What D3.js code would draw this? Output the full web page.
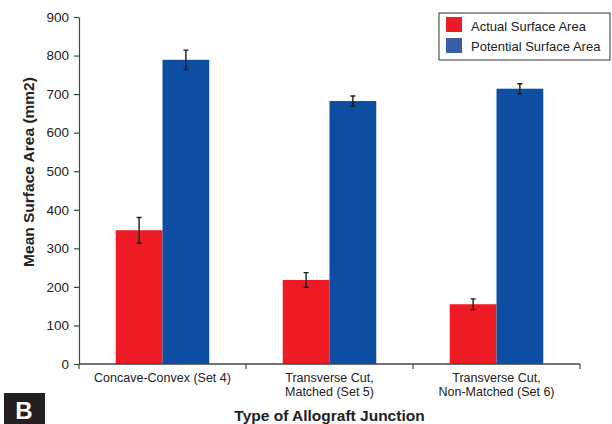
<!DOCTYPE html>
<html>
<head>
<meta charset="utf-8">
<script src="https://cdn.jsdelivr.net/npm/d3@7"></script>
<style>
  body { margin: 0; background: #fff; }
  text { font-family: "Liberation Sans", Arial, Helvetica, sans-serif; }
</style>
</head>
<body>
<div id="chart"></div>
<script>
// data
var categories = [["Concave-Convex (Set 4)"], ["Transverse Cut,", "Matched (Set 5)"], ["Transverse Cut,", "Non-Matched (Set 6)"]];
var seriesNames = ["Actual Surface Area", "Potential Surface Area"];
var actual = [347, 218, 155];
var actualErr = [33, 19, 14];
var potential = [789, 682, 714];
var potentialErr = [25, 13, 13];
var yTicks = [0, 100, 200, 300, 400, 500, 600, 700, 800, 900];

var W = 612, H = 424;
var margin = {top: 17, right: 32, bottom: 60, left: 79};
var width = W - margin.left - margin.right;
var height = H - margin.top - margin.bottom;
var barColors = ["#ed1c24", "#0d4ea2"];
var legendColors = ["#ed1c24", "#3a5ba8"];

var svg = d3.select("#chart").append("svg")
    .attr("width", W)
    .attr("height", H);

var g = svg.append("g")
    .attr("transform", "translate(" + margin.left + "," + margin.top + ")");

var x0 = d3.scaleBand()
    .domain(d3.range(categories.length))
    .range([0, width])
    .paddingInner(0)
    .paddingOuter(0);

var x1 = d3.scaleBand()
    .domain([0, 1])
    .range([x0.bandwidth() * 0.22, x0.bandwidth() * 0.78]);

var y = d3.scaleLinear()
    .domain([0, 900])
    .range([height, 0]);

var rows = categories.map(function(c, i) {
  return [
    {cat: i, s: 0, v: actual[i], e: actualErr[i]},
    {cat: i, s: 1, v: potential[i], e: potentialErr[i]}
  ];
});

var groups = g.selectAll(".grp")
    .data(rows)
    .enter().append("g")
    .attr("transform", function(d, i) { return "translate(" + x0(i) + ",0)"; });

groups.selectAll("rect")
    .data(function(d) { return d; })
    .enter().append("rect")
    .attr("x", function(d) { return x1(d.s); })
    .attr("width", x1.bandwidth())
    .attr("y", function(d) { return y(d.v); })
    .attr("height", function(d) { return height - y(d.v); })
    .attr("fill", function(d) { return barColors[d.s]; });

// error bars
var cap = 2.5;
groups.selectAll(".err")
    .data(function(d) { return d; })
    .enter().append("path")
    .attr("class", "err")
    .attr("d", function(d) {
      var cx = x1(d.s) + x1.bandwidth() / 2;
      var t = y(d.v + d.e), b = y(d.v - d.e);
      return "M" + (cx - cap) + "," + t + "H" + (cx + cap) +
             "M" + cx + "," + t + "V" + b +
             "M" + (cx - cap) + "," + b + "H" + (cx + cap);
    })
    .attr("stroke", "#1a1a1a")
    .attr("stroke-width", 1.4)
    .attr("fill", "none");

// y axis
var yAxis = g.append("g")
    .call(d3.axisLeft(y).tickValues(yTicks).tickSize(5).tickSizeOuter(0));
yAxis.select(".domain").attr("stroke", "#444").attr("stroke-width", 1.2);
yAxis.selectAll(".tick line").attr("stroke", "#444").attr("stroke-width", 1.2);
yAxis.selectAll(".tick text")
    .attr("x", -10)
    .style("font-size", "13.5px")
    .attr("fill", "#222");

// x axis with boundary ticks
var xAxis = g.append("g").attr("transform", "translate(0," + height + ")");
xAxis.append("line")
    .attr("x1", 0).attr("x2", width)
    .attr("stroke", "#444").attr("stroke-width", 1.4);
xAxis.selectAll(".bt")
    .data(d3.range(categories.length + 1))
    .enter().append("line")
    .attr("x1", function(i) { return i * x0.step(); })
    .attr("x2", function(i) { return i * x0.step(); })
    .attr("y1", 0).attr("y2", 5)
    .attr("stroke", "#444").attr("stroke-width", 1.2);

xAxis.selectAll(".cl")
    .data(categories)
    .enter().append("text")
    .attr("x", function(d, i) { return x0(i) + x0.bandwidth() / 2; })
    .attr("y", 18)
    .attr("text-anchor", "middle")
    .style("font-size", "12.5px")
    .attr("fill", "#222")
    .each(function(d) {
      var t = d3.select(this);
      d.forEach(function(line, k) {
        t.append("tspan")
          .attr("x", t.attr("x"))
          .attr("dy", k === 0 ? 0 : 14)
          .text(line);
      });
    });

// axis titles
svg.append("text")
    .attr("transform", "translate(34,172) rotate(-90)")
    .attr("text-anchor", "middle")
    .style("font-size", "15.5px")
    .style("font-weight", "bold")
    .attr("fill", "#222")
    .text("Mean Surface Area (mm2)");

svg.append("text")
    .attr("x", margin.left + width / 2)
    .attr("y", 421)
    .attr("text-anchor", "middle")
    .style("font-size", "15.5px")
    .style("font-weight", "bold")
    .attr("fill", "#222")
    .text("Type of Allograft Junction");

// legend
var lg = svg.append("g").attr("transform", "translate(439,13)");
lg.append("rect")
    .attr("width", 171).attr("height", 47)
    .attr("fill", "#fff").attr("stroke", "#333").attr("stroke-width", 1);
seriesNames.forEach(function(n, i) {
  lg.append("rect")
    .attr("x", 7).attr("y", 4 + i * 21)
    .attr("width", 16).attr("height", 15)
    .attr("fill", legendColors[i]);
  lg.append("text")
    .attr("x", 32).attr("y", 17.5 + i * 20.5)
    .style("font-size", "13px")
    .attr("fill", "#222")
    .text(n);
});

// panel letter
svg.append("rect")
    .attr("x", 4).attr("y", 393).attr("width", 41).attr("height", 31)
    .attr("fill", "#231f20");
svg.append("text")
    .attr("x", 24).attr("y", 419)
    .attr("text-anchor", "middle")
    .style("font-size", "24px")
    .style("font-weight", "bold")
    .attr("fill", "#fff")
    .text("B");
</script>
</body>
</html>
